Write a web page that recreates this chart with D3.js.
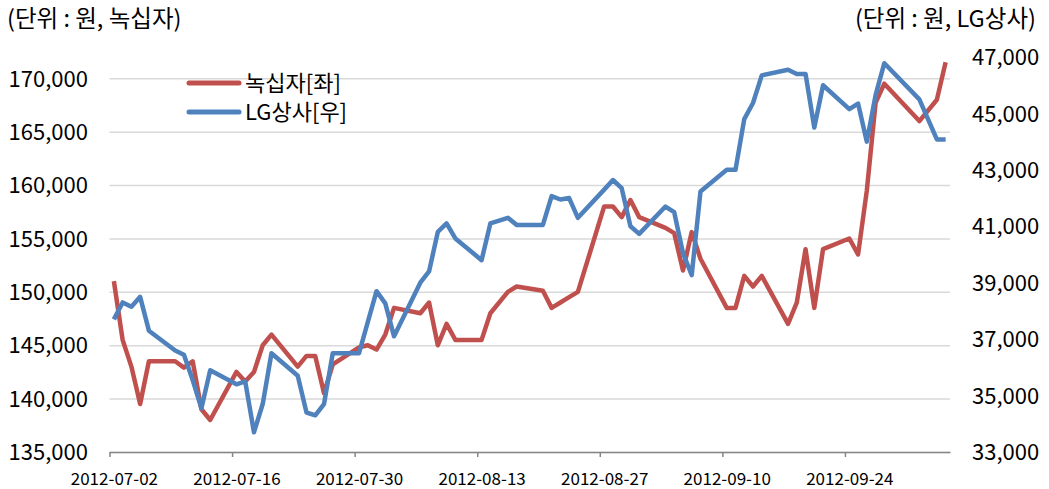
<!DOCTYPE html>
<html>
<head>
<meta charset="utf-8">
<script src="https://cdnjs.cloudflare.com/ajax/libs/d3/7.8.5/d3.min.js"></script>
<style>
  body { margin: 0; background: #fff; }
  svg text { font-family: "Noto Sans CJK KR", sans-serif; fill: #000; }
</style>
</head>
<body>
<svg width="1049" height="489"></svg>
<script>
// trading days (Korea), 2012-07-02 .. 2012-10-05
var dates = [
  "2012-07-02","2012-07-03","2012-07-04","2012-07-05","2012-07-06",
  "2012-07-09","2012-07-10","2012-07-11","2012-07-12","2012-07-13",
  "2012-07-16","2012-07-17","2012-07-18","2012-07-19","2012-07-20",
  "2012-07-23","2012-07-24","2012-07-25","2012-07-26","2012-07-27",
  "2012-07-30","2012-07-31","2012-08-01","2012-08-02","2012-08-03",
  "2012-08-06","2012-08-07","2012-08-08","2012-08-09","2012-08-10",
  "2012-08-13","2012-08-14","2012-08-16","2012-08-17",
  "2012-08-20","2012-08-21","2012-08-22","2012-08-23","2012-08-24",
  "2012-08-27","2012-08-28","2012-08-29","2012-08-30","2012-08-31",
  "2012-09-03","2012-09-04","2012-09-05","2012-09-06","2012-09-07",
  "2012-09-10","2012-09-11","2012-09-12","2012-09-13","2012-09-14",
  "2012-09-17","2012-09-18","2012-09-19","2012-09-20","2012-09-21",
  "2012-09-24","2012-09-25","2012-09-26","2012-09-27","2012-09-28",
  "2012-10-02","2012-10-04","2012-10-05"
];

// 녹십자 (left axis)
var gcPrice = [
  151000,145500,143000,139500,143500,
  143500,142900,143500,139000,138000,
  142500,141600,142500,145000,146000,
  143000,144000,144000,140500,143200,
  144800,145000,144600,146000,148500,
  148000,149000,145000,147000,145500,
  145500,148000,150000,150500,
  150100,148500,149000,149500,150000,
  158000,158000,157000,158600,157000,
  156000,155500,152000,155600,153100,
  148500,148500,151500,150500,151500,
  147000,149000,154000,148500,154000,
  155000,153500,159500,167700,169500,
  166000,168000,171500
];

// LG상사 (right axis)
var lgPrice = [
  37700,38300,38150,38500,37300,
  36600,36450,35550,34550,35900,
  35400,35500,33700,34700,36500,
  35700,34400,34300,34700,36500,
  36500,37600,38700,38270,37100,
  39000,39400,40800,41100,40570,
  39800,41100,41300,41050,
  41050,42070,41950,42000,41300,
  42300,42640,42350,41000,40730,
  41700,41500,40050,39270,42230,
  43000,43000,44800,45370,46350,
  46550,46400,46400,44500,46000,
  45150,45350,44000,45650,46780,
  45500,44080,44080
];

var leftTicks = [135000, 140000, 145000, 150000, 155000, 160000, 165000, 170000];
var rightTicks = [33000, 35000, 37000, 39000, 41000, 43000, 45000, 47000];
var xTickLabels = ["2012-07-02","2012-07-16","2012-07-30","2012-08-13","2012-08-27","2012-09-10","2012-09-24"];
var seriesNames = ["녹십자[좌]", "LG상사[우]"];
var unitLabels = ["(단위 : 원, 녹십자)", "(단위 : 원, LG상사)"];

var red = "#C0504D", blue = "#4F81BD";
var parse = d3.timeParse("%Y-%m-%d");
var svg = d3.select("svg");

var plotLeft = 109.5, plotRight = 950, plotTop = 57, plotBottom = 452;

var x = d3.scaleTime()
  .domain([parse("2012-07-02"), parse("2012-10-06")])
  .range([plotLeft, plotRight]);
var yL = d3.scaleLinear().domain([135000, 172000]).range([plotBottom, plotTop]);
var yR = d3.scaleLinear().domain([33000, 47000]).range([plotBottom, plotTop]);

// points sit in the middle of each day slot
function mid(s) { return d3.timeHour.offset(parse(s), 12); }
var halfDay = x(mid("2012-07-02")) - x(parse("2012-07-02"));

// gridlines + left labels
var gl = svg.append("g")
  .attr("transform", "translate(" + plotLeft + ",0)")
  .call(d3.axisLeft(yL).tickValues(leftTicks).tickSize(-(plotRight - plotLeft))
    .tickPadding(21.5).tickFormat(d3.format(",")));
gl.select(".domain").remove();
gl.selectAll(".tick line").attr("stroke", "#d9d9d9").attr("stroke-width", 1.5);
gl.selectAll(".tick text").style("font-size", "22px").attr("dy", "0.35em");

// right labels
var gr = svg.append("g")
  .attr("transform", "translate(" + plotRight + ",0)")
  .call(d3.axisRight(yR).tickValues(rightTicks).tickSize(0)
    .tickPadding(22).tickFormat(d3.format(",")));
gr.select(".domain").remove();
gr.selectAll(".tick text").style("font-size", "22px").attr("dy", "0.35em");

// x axis
var gx = svg.append("g")
  .attr("transform", "translate(0," + plotBottom + ")")
  .call(d3.axisBottom(x).tickValues(xTickLabels.map(parse)).tickSize(5)
    .tickSizeOuter(0).tickFormat(d3.timeFormat("%Y-%m-%d")));
gx.select(".domain").attr("stroke", "#868686").attr("stroke-width", 1.5);
gx.selectAll(".tick line").attr("stroke", "#868686").attr("stroke-width", 1.5);
gx.selectAll(".tick text")
  .style("font-size", "17px")
  .attr("x", halfDay)
  .attr("y", 33)
  .attr("dy", null);

// lines
var lineL = d3.line()
  .x(function (d, i) { return x(mid(dates[i])); })
  .y(function (d) { return yL(d); });
var lineR = d3.line()
  .x(function (d, i) { return x(mid(dates[i])); })
  .y(function (d) { return yR(d); });

svg.append("path")
  .datum(gcPrice)
  .attr("d", lineL)
  .style("fill", "none")
  .style("stroke", red)
  .style("stroke-width", 4.5)
  .style("stroke-linejoin", "round");

svg.append("path")
  .datum(lgPrice)
  .attr("d", lineR)
  .style("fill", "none")
  .style("stroke", blue)
  .style("stroke-width", 4.5)
  .style("stroke-linejoin", "round");

// legend
var legend = svg.append("g");
[red, blue].forEach(function (c, i) {
  var ly = 83 + i * 29;
  legend.append("line")
    .attr("x1", 189).attr("x2", 239)
    .attr("y1", ly).attr("y2", ly)
    .style("stroke", c)
    .style("stroke-width", 5)
    .style("stroke-linecap", "round");
  legend.append("text")
    .attr("x", 245).attr("y", ly)
    .attr("dy", "0.36em")
    .style("font-size", "22px")
    .text(seriesNames[i]);
});

// unit labels
svg.append("text")
  .attr("x", 7).attr("y", 27)
  .style("font-size", "23.5px")
  .text(unitLabels[0]);
svg.append("text")
  .attr("x", 1036).attr("y", 27)
  .attr("text-anchor", "end")
  .style("font-size", "23.5px")
  .text(unitLabels[1]);
</script>
</body>
</html>
